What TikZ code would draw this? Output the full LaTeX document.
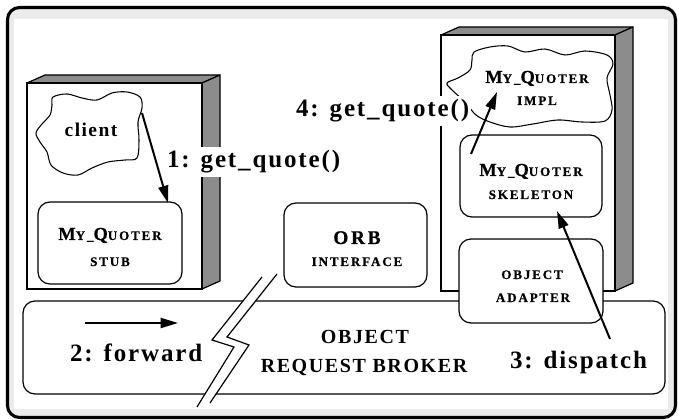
\documentclass[tikz,border=0pt]{standalone}
\usepackage{fontspec}
\setmainfont{Liberation Serif}
\newfontfamily\fbig[LetterSpace=7.5]{Liberation Serif}
\newfontfamily\fsc[LetterSpace=14,FakeBold=0.6]{Liberation Serif}
\newfontfamily\fmid[LetterSpace=8]{Liberation Serif}
\usetikzlibrary{arrows.meta,fit}
\newcommand{\myq}{{\fontsize{13.8pt}{16pt}\selectfont M}Y\_{\fontsize{13.8pt}{16pt}\selectfont Q}UOTER}
\tikzset{
  rbox/.style={draw, line width=0.9pt, rounded corners=9pt, fill=white, inner sep=0pt},
  biglbl/.style={font=\fbig\bfseries\fontsize{18.75pt}{22pt}\selectfont, inner xsep=1pt, inner ysep=2.5pt},
  sclbl/.style={font=\fsc\bfseries\fontsize{9.8pt}{12pt}\selectfont, inner sep=0pt},
  midlbl/.style={font=\fmid\bfseries\fontsize{15pt}{18pt}\selectfont, inner sep=0pt},
  arr/.style={-{Triangle[length=13pt,width=7.5pt]}, line width=1.5pt},
  hatch/.style={fill=black!45, draw=black, line width=0.9pt, line join=round},
  front/.style={fill=white, draw=black, line width=1.1pt},
  cloudline/.style={draw=black, line width=0.8pt, fill=white}
}
\begin{document}
\begin{tikzpicture}[x=0.75pt,y=-0.75pt]
\useasboundingbox (0,0) rectangle (679,420);
% outer frame
\draw[line width=2.3pt, rounded corners=9pt, fill=black!8] (7.5,7.5) rectangle (675.5,417.5);
\fill[white] (14,19) rectangle (668,409);
% left 3D box
\draw[hatch] (27,83) -- (45,75) -- (220,75) -- (202,83) -- cycle;
\draw[hatch] (202,83) -- (220,75) -- (220,281) -- (202,289) -- cycle;
\draw[front] (27,83) rectangle (202,289);
% right 3D box
\draw[hatch] (441,35) -- (459,27) -- (633,27) -- (615,35) -- cycle;
\draw[hatch] (615,35) -- (633,27) -- (633,283) -- (615,291) -- cycle;
\draw[front] (441,35) rectangle (615,291);
% bus
\node[rbox, fit={(23,301) (665,394)}] (bus) {};
% break symbol
\fill[white] (262,277) -- (212,340) -- (234,347) -- (197,407) -- (210,403) -- (249,345) -- (227,337) -- (277,274) -- cycle;
\draw[line width=0.9pt] (262,277) -- (212,340) -- (234,347) -- (197,407);
\draw[line width=0.9pt] (277,274) -- (227,337) -- (249,345) -- (210,403);
% boxes
\node[rbox, fit={(38,202) (182,284)}] (stub) {};
\node[rbox, fit={(284,203) (427,287)}] (orbi) {};
\node[rbox, fit={(460,135) (602,217)}] (skel) {};
\node[rbox, fit={(459,239) (603,323)}] (adapt) {};
% clouds
\draw[cloudline] plot[smooth cycle, tension=0.55] coordinates {
 (53,97) (67,94) (82,98) (97,100) (112,93) (127,92) (140,97) (142,108)
 (138,122) (139,140) (137,158) (125,160) (108,162) (92,168) (78,175)
 (63,173) (51,165) (47,152) (40,142) (36,133) (42,124) (50,115) (52,105)};
\draw[cloudline] plot[smooth cycle, tension=0.55] coordinates {
 (474,52) (490,47) (508,46) (525,52) (545,49) (565,55) (585,51) (607,55)
 (613,64) (607,78) (610,95) (612,110) (605,121) (582,122) (558,120)
 (533,124) (510,127) (490,122) (476,115) (465,102) (452,90) (447,83)
 (458,78) (470,70) (472,60)};
% texts
\node[midlbl, font=\fbig\bfseries\fontsize{14.6pt}{18pt}\selectfont, anchor=base] (tclient) at (91,137) {client};
\node[sclbl, anchor=base] (tstubA) at (110,240) {\myq};
\node[sclbl, anchor=base] (tstubB) at (110,266) {STUB};
\node[sclbl, font=\fsc\bfseries\fontsize{14.5pt}{16pt}\selectfont, anchor=base] (torbA) at (357,244) {ORB};
\node[sclbl, anchor=base] (torbB) at (357,266) {INTERFACE};
\node[sclbl, anchor=base] (tskelA) at (531,176) {\myq};
\node[sclbl, anchor=base] (tskelB) at (531,199) {SKELETON};
\node[sclbl, anchor=base] (timplA) at (537,83) {\myq};
\node[sclbl, anchor=base] (timplB) at (537,105) {IMPL};
\node[sclbl, anchor=base] (tadA) at (532,279) {OBJECT};
\node[sclbl, anchor=base] (tadB) at (533,302) {ADAPTER};
\node[midlbl, anchor=base] (tbusA) at (365,344) {OBJECT};
\node[midlbl, anchor=base] (tbusB) at (364,373) {REQUEST BROKER};
% arrows
\coordinate (a1s) at (142,113);
\coordinate (a1e) at (168,203);
\coordinate (a4s) at (471,154);
\coordinate (a4e) at (497,92);
\coordinate (a3s) at (610,339);
\coordinate (a3e) at (557,211);
\coordinate (a2s) at (85,323);
\coordinate (a2e) at (178,323);
\draw[arr] (a1s) -- (a1e);
\draw[arr] (a4s) -- (a4e);
\draw[arr] (a3s) -- (a3e);
\draw[arr] (a2s) -- (a2e);
% big labels
\node[biglbl, fill=white, anchor=base west] (l1) at (165.5,168) {1: get\_quote()};
\node[biglbl, fill=white, anchor=base west] (l4) at (294.5,117) {4: get\_quote()};
\node[biglbl, anchor=base west] (l2) at (68.5,362) {2: forward};
\node[biglbl, anchor=base west] (l3) at (508.5,369) {3: dispatch};
\end{tikzpicture}
\end{document}
